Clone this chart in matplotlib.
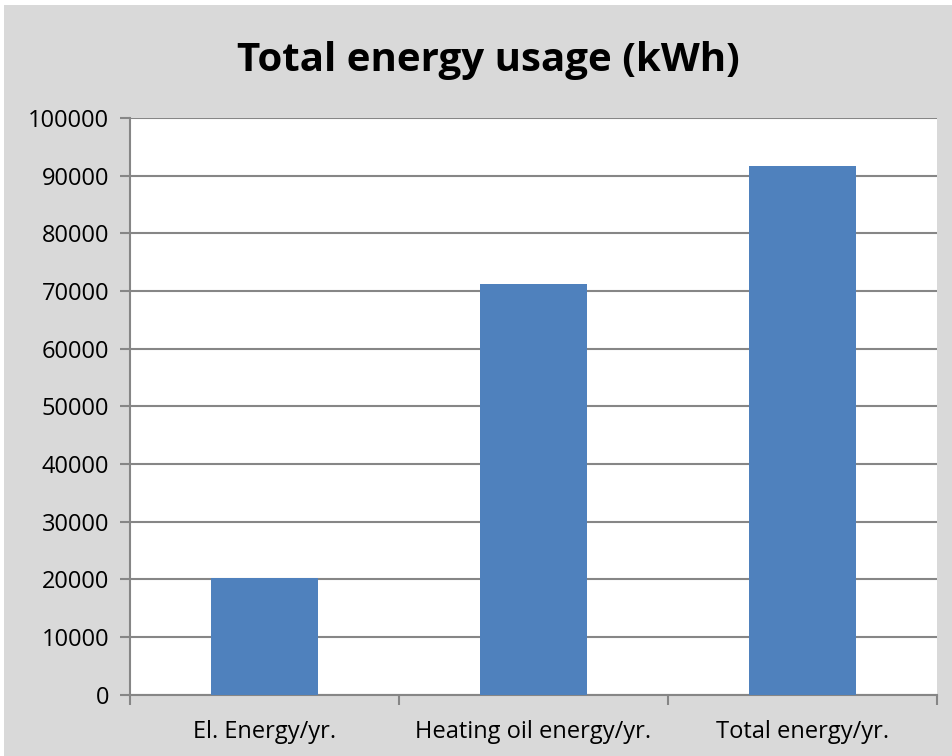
import matplotlib
matplotlib.use("Agg")
import matplotlib.pyplot as plt
from matplotlib.patches import Rectangle

categories = ["El. Energy/yr.", "Heating oil energy/yr.", "Total energy/yr."]
values = [20200, 71200, 91700]
yticks = list(range(0, 100001, 10000))

GRAY_BG = "#d9d9d9"
BAR = "#4f81bd"
LINE = "#868686"

plt.rcParams["font.family"] = ["Open Sans", "DejaVu Sans"]

fig = plt.figure(figsize=(9.53, 7.56), dpi=100)
fig.patch.set_facecolor("white")
fig.patches.append(Rectangle((4 / 953, 0), 1, 1 - 5 / 756, transform=fig.transFigure,
                             facecolor=GRAY_BG, edgecolor="none", zorder=-10))

ax = fig.add_axes([130 / 953, 1 - 694.5 / 756, 807 / 953, (694.5 - 118) / 756])
ax.set_zorder(5)
ax.set_facecolor("white")
x = list(range(len(categories)))
ax.bar(x, values, width=0.4, color=BAR, zorder=3)

ax.set_xlim(-0.5, 2.5)
ax.set_ylim(0, 100000)
ax.set_yticks(yticks)
ax.set_yticklabels([str(v) for v in yticks], fontsize=17)
ax.yaxis.grid(True, color=LINE, linewidth=1.5, zorder=1)

ax.set_xticks(x)
ax.set_xticklabels(categories, fontsize=17)
ax.set_xticks([-0.5, 0.5, 1.5, 2.5], minor=True)
ax.tick_params(axis="x", which="major", length=0, pad=18)
ax.tick_params(axis="x", which="minor", length=7, width=1.5, color=LINE)
ax.tick_params(axis="y", length=7, width=1.5, color=LINE, pad=8)

for s in ["top", "right"]:
    ax.spines[s].set_visible(False)
for s in ["left", "bottom"]:
    ax.spines[s].set_color(LINE)
    ax.spines[s].set_linewidth(1.5)

fig.text(488 / 953, 1 - 60 / 756, "Total energy usage (kWh)", ha="center", va="center",
         fontsize=29, fontweight="bold", zorder=10)

fig.savefig("out.png", dpi=100, facecolor=fig.get_facecolor())
